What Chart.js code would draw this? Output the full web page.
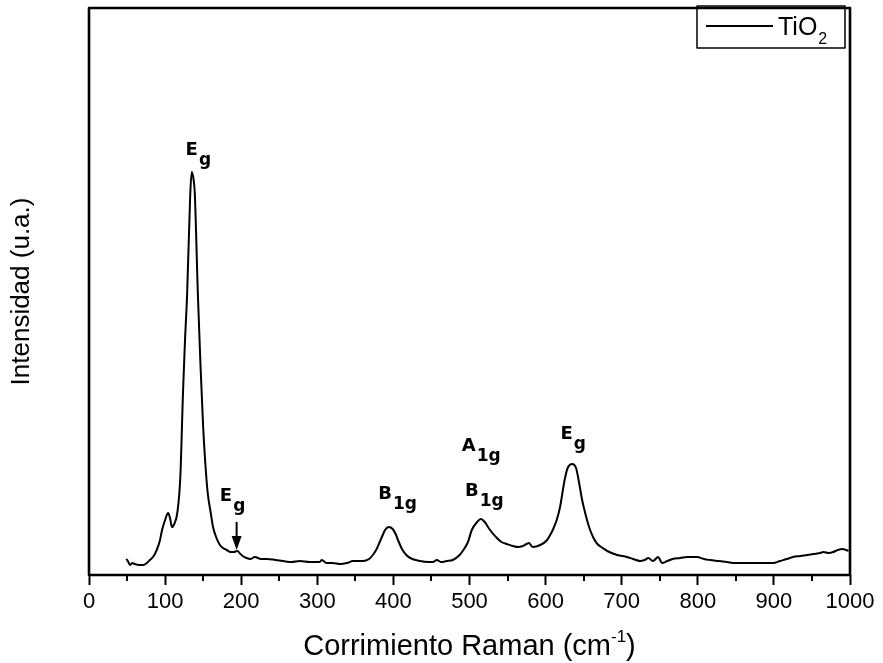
<!DOCTYPE html>
<html>
<head>
<meta charset="utf-8">
<title>Espectro Raman TiO2</title>
<script src="https://cdn.jsdelivr.net/npm/chart.js@4.4.1/dist/chart.umd.min.js"></script>
<style>
  html, body { margin: 0; padding: 0; background: #fff; }
  #ramanChart { display: block; }
</style>
</head>
<body>
<canvas id="ramanChart" width="883" height="663"></canvas>
<script>
// Raman shift (cm-1)
const ramanShift = [
    49, 51, 54, 57, 60, 66, 71, 76, 80, 85, 89, 93, 96, 100, 104, 106.5, 109, 112, 116, 120,
    123.5, 126, 129, 133, 135, 137.5, 139, 143, 146.5, 150, 153, 156, 160, 163, 167, 172, 176, 181, 186, 190,
    195, 199, 202, 207, 212, 218, 226, 234, 245, 255, 266, 277, 290, 303, 306, 312, 320, 330, 339, 347,
    360, 368, 373, 378, 382, 386, 389, 394, 399, 403, 406, 412, 417, 422, 435, 446, 452, 457, 463, 470,
    478, 487, 492, 498, 503, 510, 515, 520, 527, 536, 542, 549, 557, 564, 570, 575, 578, 583, 593, 602,
    606, 610, 615, 619, 625, 629, 635, 640, 645, 648, 652, 658, 663, 668, 675, 681, 694, 707, 715, 724,
    730, 735, 741, 748, 753, 760, 767, 777, 786, 799, 808, 816, 827, 838, 850, 865, 882, 899, 908, 917,
    925, 935, 944, 952, 961, 965, 972, 978, 984, 990, 995, 998
];

// Intensity (u.a.)
const intensity = [
    16, 14, 10, 12, 11, 10, 10, 12, 15, 19, 25, 34, 45, 55, 62, 57, 48, 51, 62, 98,
    182, 232, 282, 380, 403, 395, 382, 282, 210, 148, 110, 82, 62, 48, 38, 30, 27, 25, 23, 23,
    24, 21, 19, 17, 16, 18, 16, 16, 15, 14, 13, 14, 13, 13, 15, 12, 12, 11, 12, 14,
    14, 16, 20, 26, 33, 40, 45, 48, 46, 41, 35, 25, 20, 17, 14, 13, 13, 15, 13, 14,
    15, 20, 25, 33, 45, 53, 56, 53, 45, 37, 33, 31, 29, 28, 29, 31, 32, 28, 30, 35,
    40, 46, 56, 68, 95, 107, 111, 107, 88, 75, 62, 46, 37, 31, 27, 24, 20, 18, 16, 14,
    15, 17, 14, 18, 12, 14, 16, 17, 18, 18, 16, 15, 14, 13, 12, 12, 12, 12, 14, 16,
    18, 19, 20, 21, 22, 23, 22, 23, 25, 26, 25, 24
];

const majorTicks = [0, 100, 200, 300, 400, 500, 600, 700, 800, 900, 1000];
const minorTicks = [50, 150, 250, 350, 450, 550, 650, 750, 850, 950];

// Raman mode labels, anchored at the centre of the main letter
const modeLabels = [
    { x: 135, y: 427, name: 'E', sub: 'g' },
    { x: 180, y: 81, name: 'E', sub: 'g' },
    { x: 389, y: 83, name: 'B', sub: '1g' },
    { x: 499, y: 131, name: 'A', sub: '1g' },
    { x: 503, y: 86, name: 'B', sub: '1g' },
    { x: 627.5, y: 143, name: 'E', sub: 'g' }
];

// arrow pointing at the weak Eg band
const modeArrow = { x: 194, from: 53, to: 25 };

const textFont = '"Liberation Sans", Arial, sans-serif';
const labelFont = '"DejaVu Sans", Verdana, sans-serif';

// frame, minor ticks, annotations, legend and x title
const decorPlugin = {
    id: 'decor',
    afterDraw: function(chart) {
        const ctx = chart.ctx;
        const area = chart.chartArea;
        const xScale = chart.scales.x;
        const yScale = chart.scales.y;
        ctx.save();
        ctx.strokeStyle = '#000';
        ctx.fillStyle = '#000';

        // minor ticks
        ctx.lineWidth = 2;
        minorTicks.forEach(function(v) {
            const px = Math.round(xScale.getPixelForValue(v));
            ctx.beginPath();
            ctx.moveTo(px, area.bottom);
            ctx.lineTo(px, area.bottom + 6);
            ctx.stroke();
        });

        // plot frame
        ctx.lineWidth = 2.6;
        ctx.lineJoin = 'round';
        ctx.strokeRect(area.left, area.top, area.right - area.left, area.bottom - area.top);

        // mode labels
        modeLabels.forEach(function(lab) {
            const px = xScale.getPixelForValue(lab.x);
            const py = yScale.getPixelForValue(lab.y);
            ctx.font = 'bold 18px ' + labelFont;
            ctx.textBaseline = 'alphabetic';
            ctx.textAlign = 'center';
            ctx.fillText(lab.name, px, py + 7);
            const w = ctx.measureText(lab.name).width;
            ctx.textAlign = 'left';
            ctx.font = 'bold 17px ' + labelFont;
            ctx.fillText(lab.sub, px + w / 2 + 1, py + 17);
        });

        // arrow
        const ax = xScale.getPixelForValue(modeArrow.x);
        const ay1 = yScale.getPixelForValue(modeArrow.from);
        const ay2 = yScale.getPixelForValue(modeArrow.to);
        ctx.lineWidth = 2;
        ctx.beginPath();
        ctx.moveTo(ax, ay1);
        ctx.lineTo(ax, ay2 - 10);
        ctx.stroke();
        ctx.beginPath();
        ctx.moveTo(ax - 5, ay2 - 14);
        ctx.lineTo(ax + 5, ay2 - 14);
        ctx.lineTo(ax, ay2);
        ctx.closePath();
        ctx.fill();

        // legend box
        const ds = chart.data.datasets[0];
        const parts = ds.label.match(/^(\D+)(\d*)$/);
        const bx = area.right - 153;
        const by = area.top - 2;
        ctx.lineWidth = 1.5;
        ctx.strokeRect(bx, by, 148, 42);
        ctx.lineWidth = ds.borderWidth;
        ctx.beginPath();
        ctx.moveTo(bx + 9, by + 20);
        ctx.lineTo(bx + 76, by + 20);
        ctx.stroke();
        ctx.textAlign = 'left';
        ctx.font = '25px ' + textFont;
        ctx.fillText(parts[1], bx + 81, by + 29);
        const lw = ctx.measureText(parts[1]).width;
        ctx.font = '16px ' + textFont;
        ctx.fillText(parts[2], bx + 81 + lw + 1, by + 38);

        // x axis title with superscript
        const main = 'Corrimiento Raman (cm';
        const sup = '-1';
        const close = ')';
        ctx.font = '29px ' + textFont;
        const w1 = ctx.measureText(main).width;
        const w3 = ctx.measureText(close).width;
        ctx.font = '17px ' + textFont;
        const w2 = ctx.measureText(sup).width;
        let tx = (area.left + area.right) / 2 - (w1 + w2 + w3) / 2;
        const ty = 655;
        ctx.font = '29px ' + textFont;
        ctx.fillText(main, tx, ty);
        tx += w1;
        ctx.font = '17px ' + textFont;
        ctx.fillText(sup, tx, ty - 13);
        tx += w2;
        ctx.font = '29px ' + textFont;
        ctx.fillText(close, tx, ty);

        ctx.restore();
    }
};

const points = ramanShift.map(function(x, i) {
    return { x: x, y: intensity[i] };
});

new Chart(document.getElementById('ramanChart'), {
    type: 'line',
    data: {
        datasets: [{
            label: 'TiO2',
            data: points,
            borderColor: '#000',
            borderWidth: 2,
            pointRadius: 0,
            cubicInterpolationMode: 'monotone',
            fill: false
        }]
    },
    options: {
        responsive: false,
        animation: false,
        layout: {
            padding: { top: 8, right: 33, left: 0, bottom: 0 }
        },
        plugins: {
            legend: { display: false },
            tooltip: { enabled: false }
        },
        scales: {
            x: {
                type: 'linear',
                min: 0,
                max: 1000,
                afterBuildTicks: function(scale) {
                    scale.ticks = majorTicks.map(function(v) { return { value: v }; });
                },
                afterFit: function(scale) {
                    scale.height = 88;
                },
                ticks: {
                    color: '#000',
                    padding: 4,
                    maxRotation: 0,
                    font: { family: textFont, size: 22 },
                    callback: function(value) {
                        return String(value);
                    }
                },
                grid: {
                    display: true,
                    drawOnChartArea: false,
                    tickLength: 10,
                    tickWidth: 2,
                    tickColor: '#000'
                },
                border: { display: false }
            },
            y: {
                min: 0,
                max: 567,
                afterFit: function(scale) {
                    scale.width = 89;
                },
                ticks: { display: false },
                grid: { display: false },
                border: { display: false },
                title: {
                    display: true,
                    text: 'Intensidad (u.a.)',
                    color: '#000',
                    padding: { top: 6, bottom: 0 },
                    font: { family: textFont, size: 26 }
                }
            }
        }
    },
    plugins: [decorPlugin]
});
</script>
</body>
</html>
